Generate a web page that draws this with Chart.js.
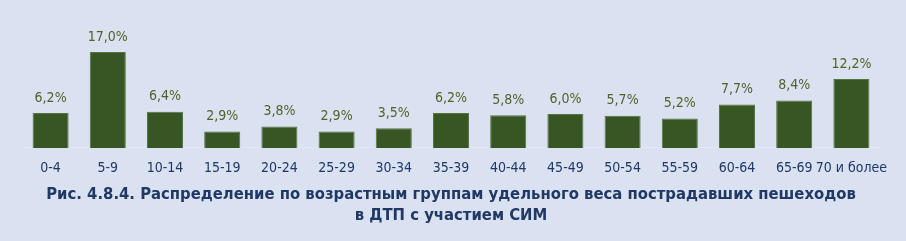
<!DOCTYPE html>
<html>
<head>
<meta charset="utf-8">
<script src="https://cdn.jsdelivr.net/npm/chart.js@4"></script>
<style>
  html, body { margin: 0; padding: 0; background: #dae1f1; }
  #wrap { width: 906px; height: 241px; }
</style>
</head>
<body>
<div id="wrap"><canvas id="myChart" width="906" height="241"></canvas></div>
<script>
const ageGroups = ['0-4', '5-9', '10-14', '15-19', '20-24', '25-29', '30-34', '35-39',
  '40-44', '45-49', '50-54', '55-59', '60-64', '65-69', '70 и более'];
const shares = [6.2, 17.0, 6.4, 2.9, 3.8, 2.9, 3.5, 6.2, 5.8, 6.0, 5.7, 5.2, 7.7, 8.4, 12.2];
const titleLines = ['Рис. 4.8.4. Распределение по возрастным группам удельного веса пострадавших пешеходов',
  'в ДТП с участием СИМ'];

const FONT = '"Liberation Sans Narrow", "DejaVu Sans Condensed", "Open Sans", sans-serif';

// value labels above bars
const barLabels = {
  id: 'barLabels',
  afterDatasetsDraw(chart) {
    const ctx = chart.ctx;
    const meta = chart.getDatasetMeta(0);
    ctx.save();
    ctx.font = '14px ' + FONT;
    ctx.fillStyle = '#4f6228';
    ctx.textAlign = 'center';
    ctx.textBaseline = 'middle';
    meta.data.forEach(function(bar, i) {
      ctx.fillText(shares[i].toFixed(1).replace('.', ',') + '%', bar.x, bar.y - 15);
    });
    ctx.restore();
  }
};

const myChart = new Chart(document.getElementById('myChart'), {
  type: 'bar',
  data: {
    labels: ageGroups,
    datasets: [{
      data: shares,
      backgroundColor: '#375623',
      borderColor: '#56743f',
      borderWidth: 1,
      categoryPercentage: 0.9,
      barPercentage: 0.7
    }]
  },
  options: {
    responsive: false,
    animation: false,
    layout: { padding: { left: 22, right: 26, top: 0, bottom: 0 } },
    plugins: {
      legend: { display: false },
      tooltip: { enabled: false },
      title: {
        display: true,
        position: 'bottom',
        text: titleLines,
        color: '#1f3864',
        font: { family: FONT, size: 16.5, weight: 'bold', lineHeight: 1.28 },
        padding: { top: 3, bottom: 15 }
      }
    },
    scales: {
      x: {
        grid: { display: false },
        border: { color: '#e3e8f2', width: 1 },
        ticks: { color: '#1f3864', font: { family: FONT, size: 14 }, padding: 4, maxRotation: 0, autoSkip: false }
      },
      y: {
        display: false,
        min: 0,
        max: 26.2
      }
    }
  },
  plugins: [barLabels]
});
</script>
</body>
</html>
